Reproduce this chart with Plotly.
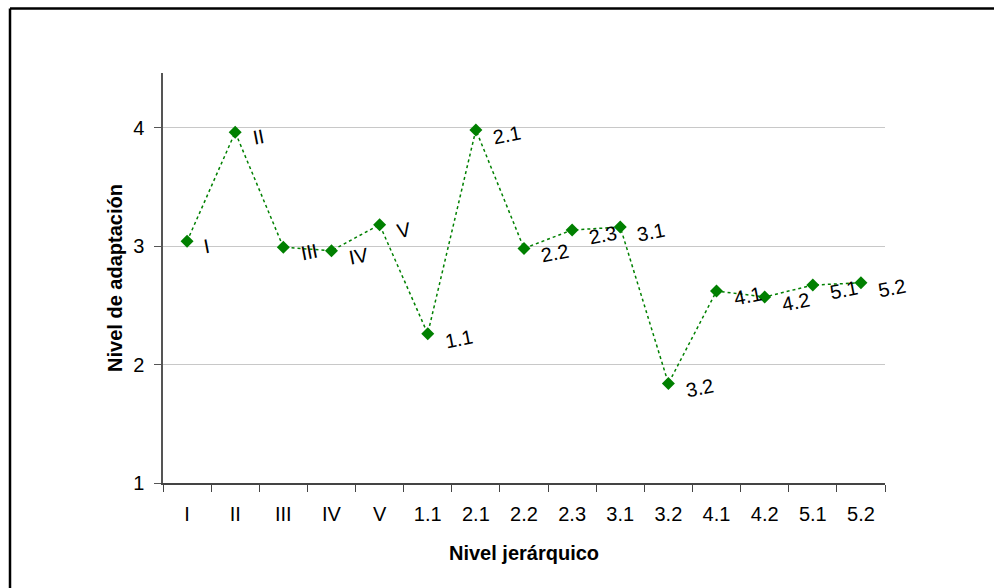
import plotly.graph_objects as go

categories = ["I", "II", "III", "IV", "V", "1.1", "2.1", "2.2", "2.3", "3.1", "3.2", "4.1", "4.2", "5.1", "5.2"]
values = [3.04, 3.96, 2.99, 2.96, 3.18, 2.26, 3.98, 2.98, 3.135, 3.16, 1.84, 2.62, 2.57, 2.67, 2.69]
point_labels = categories

W, H = 994, 588
L, R, T, B = 163, 109, 73, 105
PW, PH = W - L - R, H - T - B

FONT = "Liberation Sans, Arial, sans-serif"
GREEN = "#008000"

fig = go.Figure()
fig.add_trace(go.Scatter(
    x=categories, y=values, mode="lines+markers",
    line=dict(color=GREEN, width=1.5, dash="dot"),
    marker=dict(symbol="diamond", size=10, color=GREEN),
    showlegend=False, hoverinfo="skip",
))

for i, (v, lab) in enumerate(zip(values, point_labels)):
    fig.add_annotation(
        x=i, y=v, xref="x", yref="y", text=lab, showarrow=False,
        xanchor="left", yanchor="middle", xshift=13, yshift=-5,
        textangle=-11, font=dict(family=FONT, size=20, color="#000000"),
    )

def px(xp):
    return (xp - L) / PW

def py(yp):
    return (H - B - yp) / PH

# outer border (left and top visible)
fig.add_shape(type="line", xref="paper", yref="paper",
              x0=px(10), y0=py(8.5), x1=px(1000), y1=py(8.5),
              line=dict(color="#000000", width=2.5))
fig.add_shape(type="line", xref="paper", yref="paper",
              x0=px(10), y0=py(8.5), x1=px(10), y1=py(600),
              line=dict(color="#000000", width=2.5))

fig.update_layout(
    width=W, height=H,
    margin=dict(l=L, r=R, t=T, b=B, autoexpand=False),
    paper_bgcolor="white", plot_bgcolor="white",
    font=dict(family=FONT, size=20, color="#000000"),
    xaxis=dict(
        type="category", range=[-0.5, len(categories) - 0.5],
        showline=True, linecolor="#444444", linewidth=1.5,
        ticks="outside", ticklen=7, tickcolor="#444444", tickson="boundaries",
        showgrid=False, ticklabelstandoff=12,
        tickfont=dict(family=FONT, size=20),
        title=dict(text="<b>Nivel jerárquico</b>", font=dict(family=FONT, size=20), standoff=22),
        zeroline=False,
    ),
    yaxis=dict(
        range=[1, 4.46], tickvals=[1, 2, 3, 4],
        showline=True, linecolor="#555555", linewidth=1.5,
        ticks="outside", ticklen=7, tickcolor="#555555",
        showgrid=True, gridcolor="#c8c8c8", gridwidth=1,
        tickfont=dict(family=FONT, size=20), ticklabelstandoff=6,
        title=dict(text="<b>Nivel de adaptación</b>", font=dict(family=FONT, size=20), standoff=5),
        zeroline=False,
    ),
)

fig.write_html("out.html")
